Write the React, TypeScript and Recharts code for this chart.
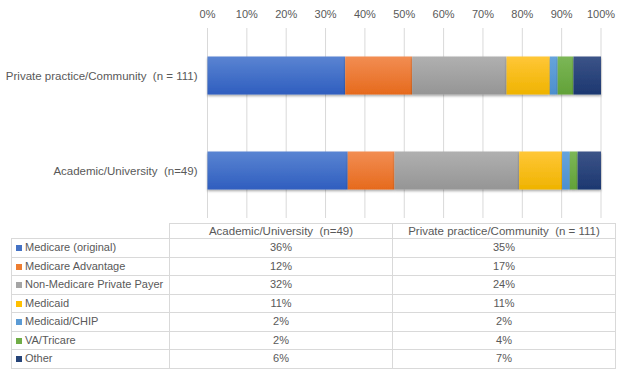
import React from "react";
import { BarChart, Bar, XAxis, YAxis, CartesianGrid } from "recharts";

const categories = ["Private practice/Community  (n = 111)", "Academic/University  (n=49)"];
const seriesNames = [
  "Medicare (original)",
  "Medicare Advantage",
  "Non-Medicare Private Payer",
  "Medicaid",
  "Medicaid/CHIP",
  "VA/Tricare",
  "Other",
];
const privateValues = [35, 17, 24, 11, 2, 4, 7];
const academicValues = [36, 12, 32, 11, 2, 2, 6];
const xTicks = [0, 0.1, 0.2, 0.3, 0.4, 0.5, 0.6, 0.7, 0.8, 0.9, 1];
const tableColumns = ["Academic/University  (n=49)", "Private practice/Community  (n = 111)"];

const baseColors = ["#4472C4", "#ED7D31", "#A5A5A5", "#FFC000", "#5B9BD5", "#70AD47", "#264478"];
const topColors = ["#5a84d2", "#f28d52", "#b0b0b0", "#ffc737", "#66a4dc", "#7cb757", "#3c5488"];
const bottomColors = ["#2f5ebf", "#e66a1d", "#959595", "#efb300", "#4d8fcd", "#62a138", "#1c3770"];

const valuesByCategory = [privateValues, academicValues];
const data = categories.map((cat, ci) => {
  const row: Record<string, any> = { cat };
  seriesNames.forEach((_, si) => {
    row["s" + si] = valuesByCategory[ci][si];
  });
  return row;
});
const tableValues = [academicValues, privateValues];

const FONT = "'Liberation Sans', Arial, sans-serif";
const TEXT = "#595959";
const BORDER = "#d9d9d9";

const YTick = (props: any) => {
  const { x, y, payload } = props;
  return (
    <text
      x={x}
      y={y}
      dy={4}
      textAnchor="end"
      fill={TEXT}
      fontSize={11.5}
      fontFamily={FONT}
      style={{ whiteSpace: "pre" }}
      xmlSpace="preserve"
    >
      {payload.value}
    </text>
  );
};

export default function App() {
  return (
    <div style={{ position: "absolute", left: 0, top: 0, width: 624, height: 379, background: "#fff", fontFamily: FONT }}>
      <BarChart
        width={624}
        height={222}
        data={data}
        layout="vertical"
        stackOffset="expand"
        barCategoryGap="30%"
        margin={{ top: 0, right: 23, bottom: 4, left: 0 }}
      >
        <defs>
          {baseColors.map((_, i) => (
            <linearGradient key={i} id={"g" + i} x1="0" y1="0" x2="0" y2="1">
              <stop offset="0%" stopColor={topColors[i]} />
              <stop offset="100%" stopColor={bottomColors[i]} />
            </linearGradient>
          ))}
          <filter id="shadow" x="-5%" y="-20%" width="110%" height="150%">
            <feDropShadow dx="0" dy="1.5" stdDeviation="0.8" floodColor="#000" floodOpacity="0.35" />
          </filter>
        </defs>
        <CartesianGrid horizontal={false} stroke={BORDER} strokeWidth={1} />
        <XAxis
          type="number"
          orientation="top"
          domain={[0, 1]}
          ticks={xTicks}
          tickFormatter={(v: number) => Math.round(v * 100) + "%"}
          axisLine={false}
          tickLine={false}
          tickSize={0}
          tickMargin={10}
          height={28}
          interval={0}
          tick={{ fill: TEXT, fontSize: 11, fontFamily: FONT }}
        />
        <YAxis
          type="category"
          dataKey="cat"
          width={207.5}
          axisLine={false}
          tickLine={false}
          tickSize={0}
          tickMargin={10}
          interval={0}
          tick={<YTick />}
        />
        {seriesNames.map((name, i) => (
          <Bar
            key={name}
            dataKey={"s" + i}
            name={name}
            stackId="a"
            fill={`url(#g${i})`}
            isAnimationActive={false}
            style={{ filter: "url(#shadow)" }}
          />
        ))}
      </BarChart>
      <table
        style={{
          position: "absolute",
          left: 11,
          top: 223,
          borderCollapse: "collapse",
          tableLayout: "fixed",
          fontFamily: FONT,
          fontSize: 11,
          color: TEXT,
        }}
      >
        <colgroup>
          <col style={{ width: 158 }} />
          <col style={{ width: 223 }} />
          <col style={{ width: 223 }} />
        </colgroup>
        <tbody>
          <tr style={{ height: 15 }}>
            <td style={{ padding: 0, border: "none", borderRight: `1px solid ${BORDER}`, borderBottom: `1px solid ${BORDER}` }} />
            {tableColumns.map((c) => (
              <td key={c} style={{ padding: 0, border: `1px solid ${BORDER}`, textAlign: "center", whiteSpace: "pre", lineHeight: "14px", fontSize: 11.5 }}>
                {c}
              </td>
            ))}
          </tr>
          {seriesNames.map((name, si) => (
            <tr key={name} style={{ height: 18.5 }}>
              <td style={{ padding: "0 0 0 4px", border: `1px solid ${BORDER}`, whiteSpace: "pre", lineHeight: "17px" }}>
                <span
                  style={{
                    display: "inline-block",
                    width: 6,
                    height: 6,
                    background: baseColors[si],
                    marginRight: 3,
                    verticalAlign: "0px",
                  }}
                />
                {name}
              </td>
              {tableValues.map((vals, ci) => (
                <td key={ci} style={{ padding: 0, border: `1px solid ${BORDER}`, textAlign: "center", lineHeight: "17px" }}>
                  {vals[si] + "%"}
                </td>
              ))}
            </tr>
          ))}
        </tbody>
      </table>
    </div>
  );
}
